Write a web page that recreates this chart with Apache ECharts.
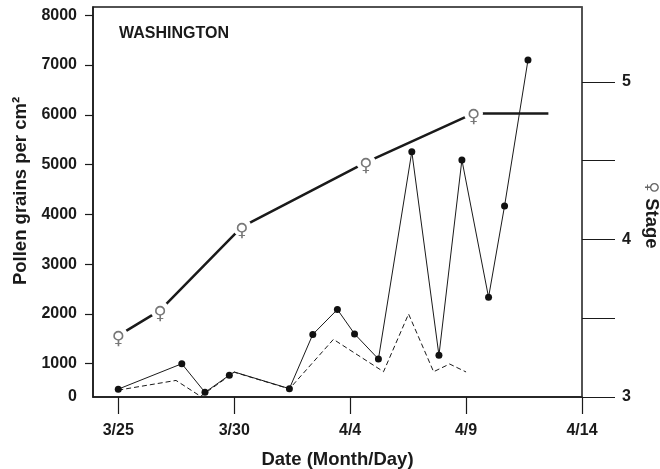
<!DOCTYPE html>
<html>
<head>
<meta charset="utf-8">
<script src="https://cdn.jsdelivr.net/npm/echarts@6/dist/echarts.min.js"></script>
<style>
  html, body { margin: 0; padding: 0; background: #fff; }
  #chart { width: 660px; height: 469px; }
</style>
</head>
<body>
<div id="chart"></div>
<script>
// days counted from 3/25
var tickDays = [0, 5, 10, 15, 20];
var tickLabels = ['3/25', '3/30', '4/4', '4/9', '4/14'];

// pollen, solid line with dots
var totalDays = [0, 2.74, 3.74, 4.79, 5.0, 7.38, 8.39, 9.45, 10.19, 11.22, 12.66, 13.83, 14.82, 15.97, 16.66, 17.67];
var totalVals = [490, 1000, 425, 770, 835, 500, 1590, 2090, 1600, 1095, 5260, 1170, 5095, 2335, 4170, 7100];
var totalDot = [1, 1, 1, 1, 0, 1, 1, 1, 1, 1, 1, 1, 1, 1, 1, 1];

// pollen, dashed line
var dashDays = [0, 2.49, 3.55, 4.8, 5.0, 7.38, 9.28, 11.44, 12.52, 13.6, 14.29, 15.0];
var dashVals = [470, 665, 345, 760, 830, 495, 1490, 840, 2000, 840, 995, 835];

// female stage (right axis)
var stageDays = [0, 1.8, 5.33, 10.68, 15.32, 18.55];
var stageVals = [3.39, 3.55, 4.08, 4.49, 4.8, 4.8];
var stageMark = [1, 1, 1, 1, 1, 0];

var font = 'Liberation Sans, Arial, sans-serif';
var ink = '#1a1a1a';

var chart = echarts.init(document.getElementById('chart'));

var option = {
    backgroundColor: '#fff',
    animation: false,
    grid: {
        left: 93, right: 78, top: 7, bottom: 72, outerBoundsMode: 'none', containLabel: false,
        show: true, borderColor: ink, borderWidth: 1.5
    },
    graphic: [{
        type: 'text', left: 119, top: 26,
        style: { text: 'WASHINGTON', font: 'bold 16px ' + font, fill: ink }
    }],
    xAxis: {
        type: 'value', min: -1.09, max: 20,
        name: 'Date (Month/Day)', nameLocation: 'middle', nameGap: 53,
        nameTextStyle: { fontFamily: font, fontWeight: 'bold', fontSize: 18.5, color: ink },
        axisLine: { onZero: false, lineStyle: { color: ink, width: 1.5 } },
        axisTick: { customValues: tickDays, length: 17, lineStyle: { color: ink, width: 1.2 } },
        axisLabel: {
            customValues: tickDays, margin: 26,
            fontFamily: font, fontWeight: 'bold', fontSize: 16, color: ink,
            formatter: function (v) { return tickLabels[tickDays.indexOf(v)]; }
        },
        splitLine: { show: false }
    },
    yAxis: [{
        type: 'value', min: 332, max: 8167, position: 'left',
        name: 'Pollen grains per cm²', nameLocation: 'middle', nameGap: 62, nameRotate: 90,
        nameTextStyle: { fontFamily: font, fontWeight: 'bold', fontSize: 18.5, color: ink, padding: [0, 0, 0, 22] },
        axisLine: { show: true, onZero: false, lineStyle: { color: ink, width: 1.5 } },
        axisTick: { customValues: [1000, 2000, 3000, 4000, 5000, 6000, 7000, 8000], length: 8, lineStyle: { color: ink, width: 1.2 } },
        axisLabel: {
            customValues: [332, 1000, 2000, 3000, 4000, 5000, 6000, 7000, 8000], margin: 16,
            fontFamily: font, fontWeight: 'bold', fontSize: 16, color: ink,
            formatter: function (v) { return v < 900 ? '0' : String(v); }
        },
        splitLine: { show: false }
    }, {
        type: 'value', min: 3, max: 5.476, position: 'right',
        name: '{s|♀} Stage', nameLocation: 'middle', nameGap: 60, nameRotate: -90,
        nameTextStyle: {
            fontFamily: font, fontWeight: 'bold', fontSize: 18.5, color: ink, padding: [0, 0, 0, 26],
            rich: { s: { fontFamily: 'DejaVu Sans', fontSize: 16, color: '#666', fontWeight: 'normal' } }
        },
        axisLine: { show: true, onZero: false, lineStyle: { color: '#555', width: 1.5 } },
        axisTick: { customValues: [3, 3.5, 4, 4.5, 5], length: 33, lineStyle: { color: ink, width: 1.2 } },
        axisLabel: {
            customValues: [3, 4, 5], margin: 40,
            fontFamily: font, fontWeight: 'bold', fontSize: 16, color: ink
        },
        splitLine: { show: false }
    }],
    series: [{
        name: 'dashed', type: 'line', yAxisIndex: 0, z: 2,
        data: dashDays.map(function (d, i) { return [d, dashVals[i]]; }),
        showSymbol: false, symbol: 'none',
        lineStyle: { color: ink, width: 1, type: [5, 3] }
    }, {
        name: 'total', type: 'line', yAxisIndex: 0, z: 3,
        data: totalDays.map(function (d, i) {
            return { value: [d, totalVals[i]], symbol: totalDot[i] ? 'circle' : 'none' };
        }),
        symbolSize: 7,
        itemStyle: { color: '#111' },
        lineStyle: { color: ink, width: 1 }
    }, {
        name: 'stage', type: 'line', yAxisIndex: 1, z: 4,
        data: stageDays.map(function (d, i) { return [d, stageVals[i]]; }),
        symbol: 'none',
        lineStyle: { color: ink, width: 2.5 }
    }, {
        name: 'stageMark', type: 'scatter', yAxisIndex: 1, z: 5,
        data: stageDays.filter(function (d, i) { return stageMark[i]; })
            .map(function (d, i) { return [d, stageVals[i]]; }),
        symbol: 'circle', symbolSize: 19,
        itemStyle: { color: '#fff', opacity: 1 },
        label: {
            show: true, position: 'inside', offset: [0, 4],
            formatter: '♀', fontFamily: 'DejaVu Sans', fontSize: 18, color: '#777'
        }
    }]
};
chart.setOption(option);
</script>
</body>
</html>
